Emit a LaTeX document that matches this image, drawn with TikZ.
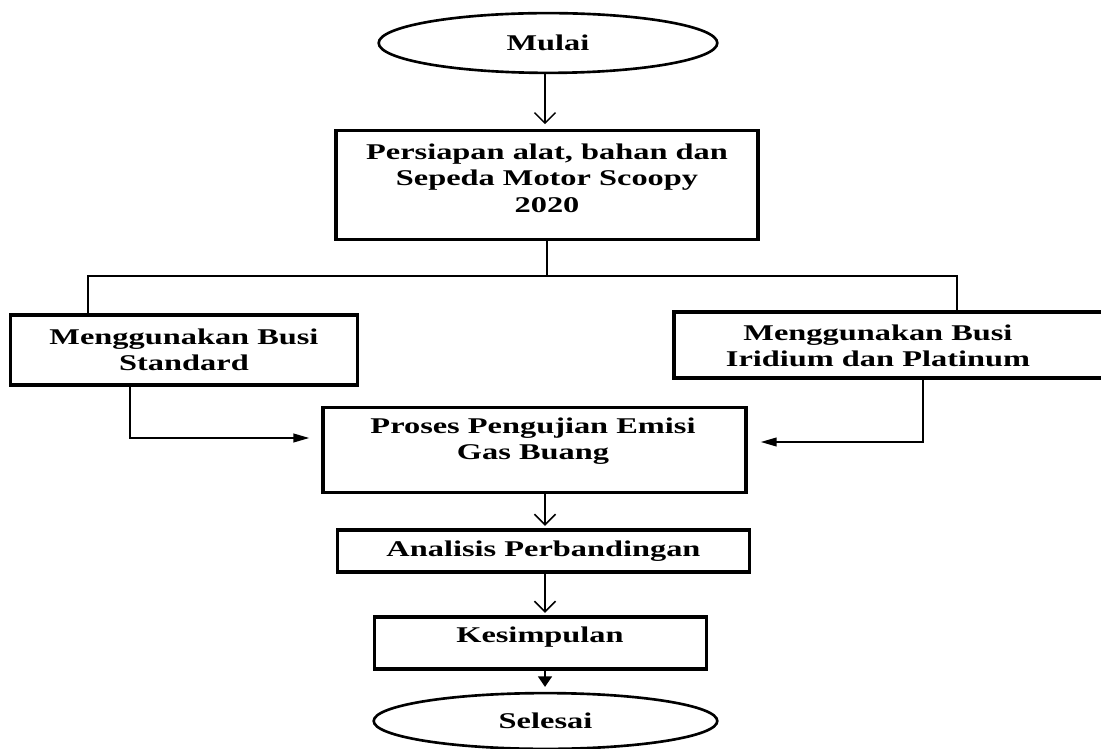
\documentclass[tikz,border=0pt]{standalone}
\usepackage{fontspec}
\setmainfont{Liberation Serif}[FakeStretch=1.44]
\usetikzlibrary{arrows.meta,shapes.geometric}
\newcommand\pxu{0.5669pt}
\begin{document}
\begin{tikzpicture}[x=0.02cm,y=-0.02cm,
  box/.style={draw, line width=1.9pt, rectangle, inner sep=0pt, font=\fontsize{12.8}{15}\selectfont\bfseries, align=center},
  term/.style={draw, line width=1.5pt, ellipse, inner sep=0pt, font=\fontsize{12.8}{15}\selectfont\bfseries},
  txt/.style={font=\fontsize{12.8}{15}\selectfont\bfseries, align=center, inner sep=0pt},
  conn/.style={line width=0.85pt},
  varrow/.style={conn, -{Straight Barb[length=6pt,width=12pt]}},
  harrow/.style={conn, -{Triangle[length=9pt,width=5pt]}},
  farrow/.style={conn, -{Triangle[length=6pt,width=8pt]}}]
\useasboundingbox (0,0) rectangle (1101,749);
% terminals
\node[term, minimum width=340*\pxu, minimum height=60*\pxu] (mulai) at (548,43) {Mulai};
\node[term, minimum width=345*\pxu, minimum height=56*\pxu] (sel) at (545.5,721) {Selesai};
% boxes
\node[box, minimum width=424*\pxu, minimum height=110*\pxu] (prep) at (547,185) {};
\node[txt] (preptxt) at (547,178) {Persiapan alat, bahan dan\\Sepeda Motor Scoopy\\2020};
\node[box, minimum width=348*\pxu, minimum height=70*\pxu] (std) at (184,350) {Menggunakan Busi\\Standard};
\node[box, minimum width=440*\pxu, minimum height=66*\pxu] (irid) at (893,345) {};
\node[txt] (iridtxt) at (878,346) {Menggunakan Busi\\Iridium dan Platinum};
\node[box, minimum width=425*\pxu, minimum height=86*\pxu] (proc) at (534.5,450) {};
\node[txt] (proctxt) at (533,441) {Proses Pengujian Emisi\\Gas Buang};
\node[box, minimum width=413*\pxu, minimum height=42*\pxu] (anal) at (543.5,551) {Analisis Perbandingan};
\node[box, minimum width=333*\pxu, minimum height=52*\pxu] (kes) at (540.5,643) {};
\node[txt] (kestxt) at (540,637) {Kesimpulan};
% connectors
\coordinate (ax) at (545,0);
\draw[varrow, shorten >=2.5pt] (mulai.south -| ax) -- (prep.north -| ax);
\coordinate (split) at (547,276);
\draw[conn] (prep.south) -- (split);
\coordinate (jl) at (88,276);
\coordinate (jr) at (957,276);
\draw[conn] (jl |- std.north) -- (jl) -- (jr) -- (jr |- irid.north);
\coordinate (cl) at (130,438);
\draw[harrow, shorten >=6.8pt] (cl |- std.south) -- (cl) -- (proc.west |- cl);
\coordinate (cr) at (923,442);
\draw[harrow, shorten >=7.4pt] (cr |- irid.south) -- (cr) -- (proc.east |- cr);
\draw[varrow, shorten >=1.5pt] (proc.south -| ax) -- (anal.north -| ax);
\draw[varrow, shorten >=1.5pt] (anal.south -| ax) -- (kes.north -| ax);
\draw[farrow, shorten >=2.8pt] (kes.south -| ax) -- (sel.north -| ax);
\end{tikzpicture}
\end{document}
